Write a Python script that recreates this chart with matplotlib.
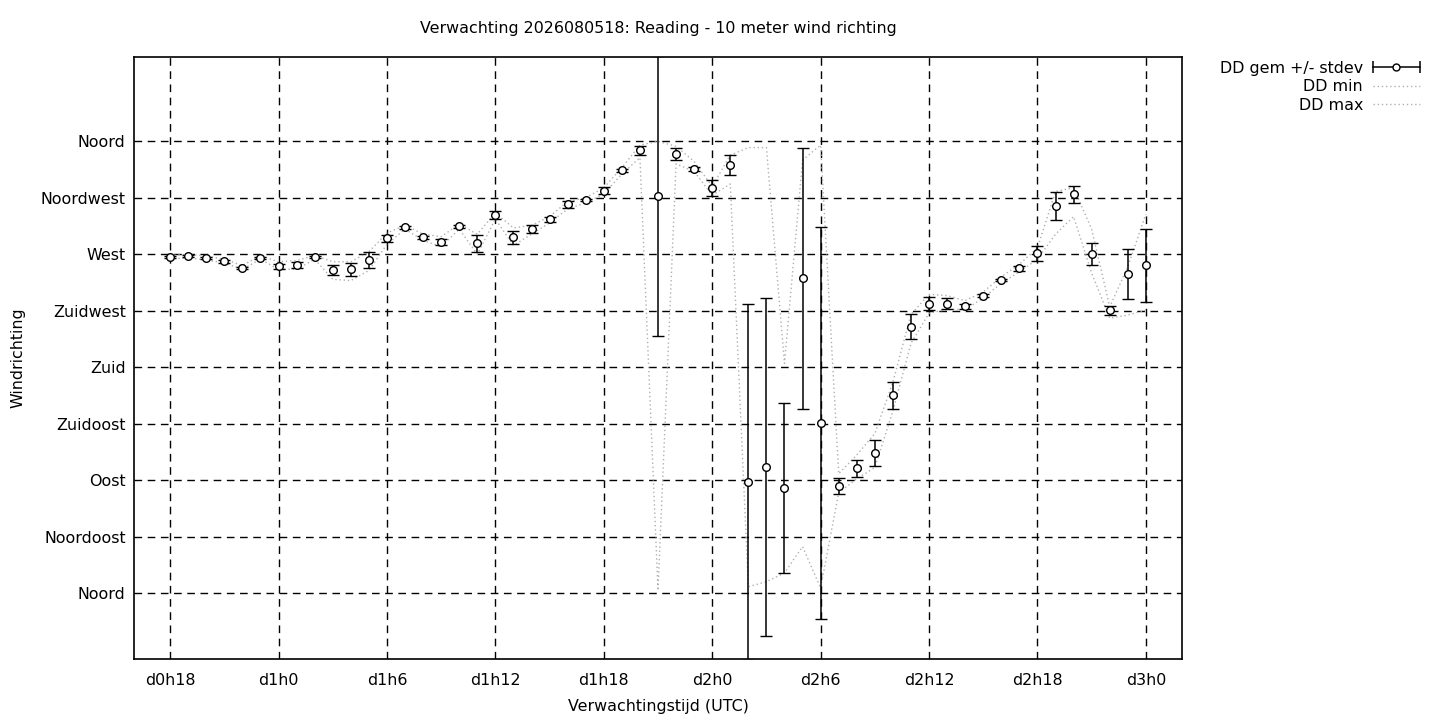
import numpy as np
import matplotlib
matplotlib.use("Agg")
import matplotlib.pyplot as plt
from matplotlib.lines import Line2D
from matplotlib.legend_handler import HandlerBase
from matplotlib.container import ErrorbarContainer

# ----------------------------------------------------------------------
# data, hourly forecast steps 18..72
# ----------------------------------------------------------------------
hours = list(range(18, 73))

dd_gem = [267.6, 268.6, 267.1, 264.4, 259.1, 267.1, 260.4, 261.5, 267.6, 257.5,
          258.0, 265.5, 282.7, 291.5, 283.5, 279.8, 292.3, 278.8, 301.1, 283.5,
          289.9, 297.9, 309.8, 313.2, 320.7, 336.9, 352.8, 316.6, 349.9, 337.7,
          322.8, 341.0, 88.4, 100.4, 83.6, 250.9, 135.4, 85.5, 99.3, 111.3,
          157.5, 212.4, 230.7, 230.7, 228.6, 237.1, 249.3, 258.8, 270.8, 308.2,
          317.7, 270.0, 225.4, 254.1, 261.2]

dd_std = [0.8, 0.8, 1.0, 1.0, 0.8, 0.8, 1.9, 2.7, 0.8, 3.7,
          5.3, 6.1, 2.7, 1.0, 1.0, 2.1, 1.0, 6.9, 3.2, 5.3,
          3.2, 2.1, 2.7, 1.0, 2.7, 1.0, 3.7, 111.5, 4.5, 1.5,
          6.1, 7.8, 141.8, 134.6, 67.7, 104.0, 156.0, 6.2, 6.6, 10.4,
          10.5, 9.6, 4.9, 4.5, 2.0, 1.5, 1.0, 2.0, 6.1, 11.1,
          6.8, 8.8, 3.5, 19.9, 29.3]

dd_min = [266.5, 267.0, 265.5, 263.0, 258.0, 266.0, 258.0, 258.0, 266.0, 250.0,
          249.0, 257.0, 278.0, 290.0, 281.0, 276.0, 290.0, 270.0, 298.0, 277.0,
          286.0, 295.0, 306.0, 311.0, 318.0, 334.0, 347.0, 2.0, 342.0, 336.0,
          317.0, 326.0, 5.0, 9.0, 16.0, 37.0, 4.0, 80.0, 91.0, 100.0,
          145.0, 199.0, 223.0, 226.0, 226.0, 235.0, 247.0, 256.0, 266.0, 286.0,
          300.0, 255.0, 219.0, 221.5, 225.5]

dd_max = [269.0, 270.0, 268.5, 266.0, 261.0, 269.0, 264.0, 265.0, 269.0, 264.0,
          264.0, 272.0, 287.0, 293.0, 286.0, 284.0, 294.0, 286.0, 303.0, 291.0,
          293.0, 300.0, 312.0, 315.0, 323.0, 339.0, 357.0, 360.0, 356.0, 344.0,
          324.0, 349.0, 355.0, 355.0, 183.0, 345.0, 357.0, 95.0, 110.0, 127.0,
          168.0, 222.0, 238.0, 237.0, 233.0, 240.0, 252.0, 262.0, 275.0, 320.0,
          323.0, 290.0, 228.0, 260.0, 302.0]

x_ticks = [18, 24, 30, 36, 42, 48, 54, 60, 66, 72]
x_labels = ["d0h18", "d1h0", "d1h6", "d1h12", "d1h18",
            "d2h0", "d2h6", "d2h12", "d2h18", "d3h0"]
y_ticks = [0, 45, 90, 135, 180, 225, 270, 315, 360]
y_labels = ["Noord", "Noordoost", "Oost", "Zuidoost", "Zuid",
            "Zuidwest", "West", "Noordwest", "Noord"]


# gnuplot-like legend sample: horizontal bar with end caps and a circle
class HBarHandler(HandlerBase):
    def create_artists(self, legend, orig_handle, xdescent, ydescent,
                       width, height, fontsize, trans):
        y = height / 2 - ydescent
        x0, x1 = -xdescent, width - xdescent
        bar = Line2D([x0, x1], [y, y], color="black", lw=1.1, transform=trans)
        caps = Line2D([x0, x1], [y, y], ls="none", marker="|", ms=8,
                      mew=1.1, color="black", transform=trans)
        dot = Line2D([(x0 + x1) / 2], [y], ls="none", marker="o", ms=5,
                     mfc="white", mec="black", mew=1.0, transform=trans)
        return [bar, caps, dot]


FS = 11.4
plt.rcParams.update({
    "font.family": "DejaVu Sans",
    "font.size": FS,
})

fig = plt.figure(figsize=(14.4, 7.2), dpi=100)
ax = fig.add_axes([134 / 1440, 61 / 720, 1048 / 1440, 602 / 720])

dots = (0, (1, 2))
ax.plot(hours, dd_min, color="#b0b0b0", lw=1.0, ls=dots, label="DD min", zorder=2)
ax.plot(hours, dd_max, color="#b0b0b0", lw=1.0, ls=dots, label="DD max", zorder=2)
eb = ax.errorbar(hours, dd_gem, yerr=dd_std, fmt="o", color="black",
                 ms=5.5, mfc="white", mec="black", mew=1.0,
                 elinewidth=1.1, capsize=4, capthick=1.1,
                 label="DD gem +/- stdev", zorder=3)

ax.set_xlim(16, 74)
ax.set_ylim(-52.6, 427.2)
ax.set_xticks(x_ticks)
ax.set_xticklabels(x_labels)
ax.set_yticks(y_ticks)
ax.set_yticklabels(y_labels)
ax.tick_params(length=0, labelsize=FS)
ax.tick_params(axis="y", pad=6)
ax.tick_params(axis="x", pad=10)
ax.grid(True, color="black", lw=1.0, ls=(0, (5.5, 4)))
ax.set_axisbelow(True)
for sp in ax.spines.values():
    sp.set_linewidth(1.2)

ax.set_xlabel("Verwachtingstijd (UTC)", fontsize=FS)
ax.xaxis.set_label_coords(0.5, -(706 - 659) / 602)
ax.xaxis.label.set_verticalalignment("center")
ax.set_ylabel("Windrichting", fontsize=FS)
ax.yaxis.set_label_coords(-(134 - 18) / 1048, 0.5)
ax.yaxis.label.set_verticalalignment("center")

fig.text(658 / 1440, 1 - 29 / 720,
         "Verwachting 2026080518: Reading - 10 meter wind richting",
         ha="center", va="center", fontsize=FS)

handles, labels = ax.get_legend_handles_labels()
order = [labels.index(l) for l in ["DD gem +/- stdev", "DD min", "DD max"]]
ax.legend([handles[i] for i in order], [labels[i] for i in order],
          loc="upper right", bbox_to_anchor=(1428 / 1440, 1 - 53 / 720),
          bbox_transform=fig.transFigure, frameon=False, markerfirst=False,
          handlelength=3.0, handletextpad=0.6, labelspacing=0.22,
          borderpad=0, fontsize=FS,
          handler_map={ErrorbarContainer: HBarHandler()})

fig.savefig("out.png", dpi=100)
